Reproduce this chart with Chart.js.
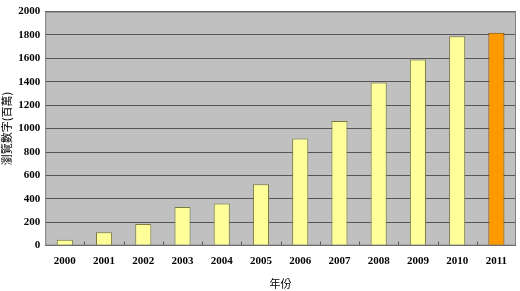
<!DOCTYPE html>
<html lang="zh-Hant">
<head>
    <meta charset="UTF-8">
    <title>瀏覽數字</title>
    <script src="https://cdn.jsdelivr.net/npm/chart.js"></script>
    <style>
        html, body { margin: 0; padding: 0; background: #fff; }
        #wrap { width: 520px; height: 291px; }
    </style>
</head>
<body>
    <div id="wrap"><canvas id="viewsChart"></canvas></div>
    <script>
        const years = ['2000', '2001', '2002', '2003', '2004', '2005', '2006', '2007', '2008', '2009', '2010', '2011'];
        const views = [50, 115, 185, 330, 360, 525, 915, 1065, 1395, 1590, 1790, 1820];
        const yTicks = [0, 200, 400, 600, 800, 1000, 1200, 1400, 1600, 1800, 2000];

        const fillColors = years.map((y, i) => i === years.length - 1 ? '#ff9900' : '#ffff99');
        const edgeColors = years.map((y, i) => i === years.length - 1 ? '#7a4a00' : '#7a7a40');

        const serifBold = { family: "'Liberation Serif', 'Times New Roman', serif", size: 11, weight: 'bold' };

        // grey plot area like the original spreadsheet chart
        const plotBg = {
            id: 'plotBg',
            beforeDraw(chart) {
                const { ctx, chartArea: a } = chart;
                ctx.save();
                ctx.fillStyle = '#c0c0c0';
                ctx.fillRect(a.left, a.top, a.right - a.left, a.bottom - a.top);
                ctx.restore();
            },
            afterDatasetsDraw(chart) {
                // small tick marks between categories, pointing up
                const { ctx, chartArea: a, scales } = chart;
                const x = scales.x;
                ctx.save();
                ctx.strokeStyle = '#555';
                ctx.lineWidth = 1;
                for (let i = 1; i < years.length; i++) {
                    const px = Math.round((x.getPixelForValue(i - 1) + x.getPixelForValue(i)) / 2) + 0.5;
                    ctx.beginPath();
                    ctx.moveTo(px, a.bottom);
                    ctx.lineTo(px, a.bottom - 4);
                    ctx.stroke();
                }
                ctx.strokeStyle = '#808080';
                ctx.strokeRect(a.left + 0.5, a.top + 0.5, a.right - a.left - 1, a.bottom - a.top - 1);
                ctx.restore();
            }
        };

        const ctx = document.getElementById('viewsChart').getContext('2d');
        new Chart(ctx, {
            type: 'bar',
            data: {
                labels: years,
                datasets: [{
                    data: views,
                    backgroundColor: fillColors,
                    borderColor: edgeColors,
                    borderWidth: 1,
                    barPercentage: 0.41,
                    categoryPercentage: 1
                }]
            },
            options: {
                responsive: true,
                maintainAspectRatio: false,
                animation: false,
                layout: { padding: { top: 3, right: 4, bottom: 1, left: 0 } },
                plugins: {
                    legend: { display: false },
                    tooltip: { enabled: false }
                },
                scales: {
                    y: {
                        min: 0,
                        max: 2000,
                        afterBuildTicks: axis => { axis.ticks = yTicks.map(v => ({ value: v })); },
                        grid: { color: '#555', drawTicks: false },
                        border: { display: false },
                        ticks: {
                            padding: 5,
                            color: '#000',
                            font: serifBold,
                            callback: v => String(v)
                        },
                        title: {
                            display: true,
                            text: '瀏覽數字(百萬)',
                            color: '#000',
                            padding: { top: 0, bottom: 0 },
                            font: { family: 'Noto Sans CJK TC', size: 11 }
                        }
                    },
                    x: {
                        grid: { display: false, drawTicks: false },
                        border: { display: false },
                        ticks: {
                            padding: 9,
                            color: '#000',
                            font: serifBold
                        },
                        title: {
                            display: true,
                            text: '年份',
                            color: '#000',
                            padding: { top: 0, bottom: 0 },
                            font: { family: 'Noto Sans CJK TC', size: 11 }
                        }
                    }
                }
            },
            plugins: [plotBg]
        });
    </script>
</body>
</html>
